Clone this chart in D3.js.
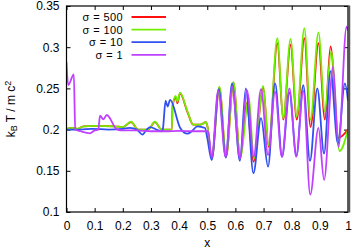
<!DOCTYPE html>
<html><head><meta charset="utf-8">
<script src="https://cdn.jsdelivr.net/npm/d3@7"></script>
<style>
html,body{margin:0;padding:0;background:#fff;}
text{font-family:"Liberation Sans",Arial,sans-serif;}
</style></head>
<body>
<svg id="c" width="354" height="252"></svg>
<script>
const xTicks = [0,0.1,0.2,0.3,0.4,0.5,0.6,0.7,0.8,0.9,1];
const xTickLabels = ["0","0.1","0.2","0.3","0.4","0.5","0.6","0.7","0.8","0.9","1"];
const yTicks = [0.1,0.15,0.2,0.25,0.3,0.35];
const yTickLabels = ["0.1","0.15","0.2","0.25","0.3","0.35"];
const seriesNames = ["σ = 500","σ = 100","σ = 10","σ = 1"];
const seriesColors = ["#ff1010","#72ee00","#3050f0","#c040ff"];

const x500 = [0,0.02,0.04,0.06,0.1,0.17,0.2,0.229,0.255,0.29,0.314,0.338,0.374,0.377,0.388,0.394,0.403,0.43,0.45,0.475,0.495,0.5,0.516,0.543,0.567,0.593,0.617,0.64,0.664,0.699,0.718,0.749,0.770,0.796,0.818,0.845,0.867,0.895,0.918,0.938,0.966,1.0];
const y500 = [0.201,0.202,0.201,0.204,0.2045,0.204,0.203,0.209,0.2,0.2,0.209,0.2,0.2,0.229,0.239,0.232,0.244,0.221,0.206,0.206,0.209,0.205,0.165,0.251,0.167,0.257,0.165,0.232,0.161,0.251,0.179,0.305,0.212,0.303,0.212,0.311,0.203,0.305,0.212,0.301,0.190,0.2];

const x100 = [0,0.02,0.04,0.06,0.1,0.17,0.2,0.229,0.255,0.29,0.314,0.338,0.374,0.377,0.388,0.394,0.403,0.43,0.45,0.475,0.495,0.5,0.516,0.543,0.567,0.593,0.617,0.648,0.665,0.699,0.718,0.749,0.770,0.796,0.818,0.845,0.867,0.895,0.918,0.94,0.97,1.0];
const y100 = [0.201,0.202,0.201,0.204,0.2045,0.204,0.203,0.2096,0.2,0.2,0.2096,0.2,0.2,0.23,0.2408,0.2339,0.2448,0.222,0.206,0.206,0.209,0.205,0.166,0.252,0.168,0.258,0.166,0.239,0.165,0.253,0.181,0.311,0.214,0.31,0.216,0.323,0.212,0.318,0.222,0.295,0.174,0.2];

const x10 = [0,0.05,0.09,0.15,0.2,0.225,0.25,0.27,0.285,0.297,0.32,0.338,0.342,0.352,0.359,0.368,0.404,0.43,0.445,0.465,0.492,0.5,0.516,0.541,0.566,0.588,0.616,0.637,0.664,0.691,0.716,0.741,0.766,0.792,0.817,0.841,0.865,0.891,0.915,0.938,0.964,0.989,1.0];
const y10 = [0.2,0.2,0.201,0.2,0.201,0.202,0.2,0.194,0.2,0.203,0.2,0.198,0.2,0.235,0.228,0.236,0.202,0.195,0.198,0.204,0.202,0.19,0.163,0.249,0.166,0.256,0.162,0.25,0.147,0.214,0.155,0.256,0.167,0.245,0.168,0.254,0.162,0.25,0.171,0.271,0.183,0.256,0.235];

const x1 = [0,0.006,0.026,0.031,0.05,0.083,0.1,0.113,0.119,0.131,0.143,0.18,0.2,0.25,0.3,0.35,0.4,0.45,0.503,0.516,0.539,0.565,0.589,0.616,0.641,0.665,0.691,0.716,0.741,0.765,0.792,0.816,0.841,0.866,0.895,0.915,0.947,0.966,0.995,1.0];
const y1 = [0.282,0.254,0.267,0.2,0.198,0.1955,0.199,0.2,0.217,0.2125,0.2177,0.2,0.199,0.199,0.198,0.198,0.1985,0.198,0.198,0.166,0.248,0.167,0.252,0.165,0.248,0.167,0.249,0.169,0.246,0.167,0.25,0.167,0.247,0.121,0.202,0.139,0.276,0.179,0.325,0.32];

const seriesX = [x500,x100,x10,x1];
const seriesY = [y500,y100,y10,y1];

const svg = d3.select("#c");
const L=66.5, R=348, T=6, B=212;
const x = d3.scaleLinear().domain([0,1]).range([L,R]);
const y = d3.scaleLinear().domain([0.1,0.35]).range([B,T]);

const fmtX = (d,i)=>xTickLabels[i];
const fmtY = (d,i)=>yTickLabels[i];
const gB = svg.append("g").attr("transform",`translate(0,${B})`)
  .call(d3.axisBottom(x).tickValues(xTicks).tickFormat(fmtX).tickSizeInner(-4).tickSizeOuter(0).tickPadding(9));
const gT = svg.append("g").attr("transform",`translate(0,${T})`)
  .call(d3.axisTop(x).tickValues(xTicks).tickFormat("").tickSizeInner(-4).tickSizeOuter(0));
const gL = svg.append("g").attr("transform",`translate(${L},0)`)
  .call(d3.axisLeft(y).tickValues(yTicks).tickFormat(fmtY).tickSizeInner(-4).tickSizeOuter(0).tickPadding(7));
const gR = svg.append("g").attr("transform",`translate(${R},0)`)
  .call(d3.axisRight(y).tickValues(yTicks).tickFormat("").tickSizeInner(-4).tickSizeOuter(0));
[gB,gT,gL,gR].forEach(g=>{
  g.select(".domain").remove();
  g.selectAll("line").attr("stroke","#000").attr("stroke-width",1);
  g.selectAll("text").attr("font-size",12).attr("fill","#000").style("font-family","'Liberation Sans',Arial,sans-serif");
});

svg.append("clipPath").attr("id","clip").append("rect").attr("x",L).attr("y",T).attr("width",R-L).attr("height",B-T);
const line = d3.line().curve(d3.curveMonotoneX);
const gLines = svg.append("g").attr("clip-path","url(#clip)");
seriesX.forEach((xs,i)=>{
  const pts = xs.map((v,j)=>[x(v),y(seriesY[i][j])]);
  gLines.append("path").attr("d",line(pts)).attr("fill","none")
    .attr("stroke",seriesColors[i]).attr("stroke-width",1.8).attr("stroke-linejoin","round");
});

svg.append("rect").attr("x",L).attr("y",T).attr("width",R-L).attr("height",B-T)
  .attr("fill","none").attr("stroke","#000").attr("stroke-width",1.2);
svg.append("line").attr("x1",R+1).attr("x2",R+1).attr("y1",T-0.5).attr("y2",B+0.5)
  .attr("stroke","#555").attr("stroke-width",2.5);

const lg = svg.append("g");
seriesNames.forEach((n,i)=>{
  const cy = 17 + i*12.6;
  lg.append("text").attr("x",123).attr("y",cy+3.9).attr("text-anchor","end")
    .attr("font-size",11).attr("letter-spacing","0.4px").text(n);
  lg.append("line").attr("x1",131.5).attr("x2",166).attr("y1",cy).attr("y2",cy)
    .attr("stroke",seriesColors[i]).attr("stroke-width",1.8);
});

svg.append("text").attr("x",(L+R)/2).attr("y",247).attr("text-anchor","middle")
  .attr("font-size",12).text("x");
const yl = svg.append("text").attr("transform",`translate(15,${(T+B)/2}) rotate(-90)`)
  .attr("text-anchor","middle").attr("font-size",12);
yl.append("tspan").text("k");
yl.append("tspan").attr("baseline-shift","-25%").attr("font-size",9).text("B");
yl.append("tspan").text(" T / m c");
yl.append("tspan").attr("baseline-shift","40%").attr("font-size",9).text("2");
</script>
</body></html>
